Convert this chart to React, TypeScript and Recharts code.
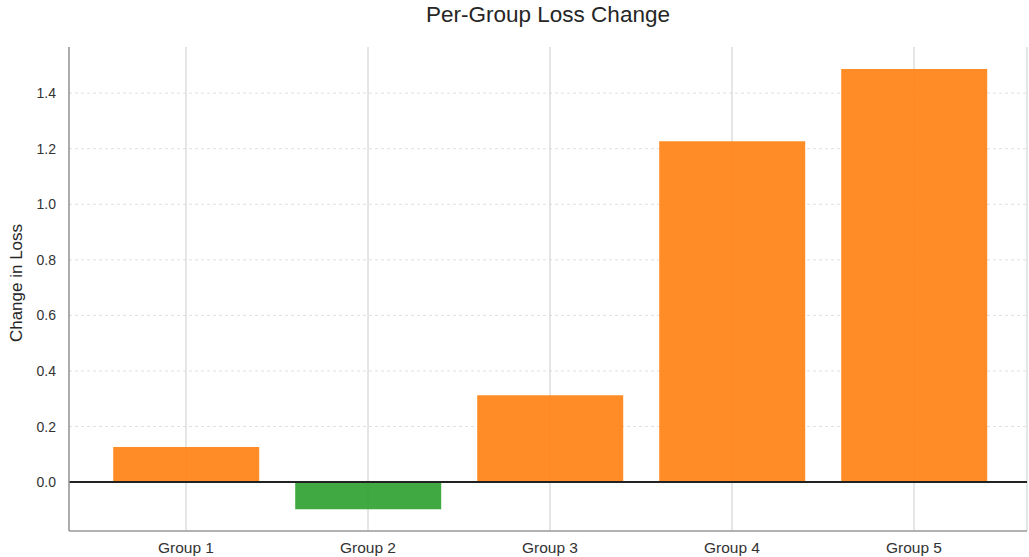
import { BarChart, Bar, XAxis, YAxis, CartesianGrid, ReferenceLine, Cell } from 'recharts';

const groups = ['Group 1', 'Group 2', 'Group 3', 'Group 4', 'Group 5'];
const lossChange = [0.126, -0.098, 0.313, 1.227, 1.487];
const yTicks = [0, 0.2, 0.4, 0.6, 0.8, 1.0, 1.2, 1.4];

const data = groups.map((g, i) => ({ name: g, value: lossChange[i] }));

const FONT = '"Liberation Sans", Arial, sans-serif';

export default function App() {
  return (
    <div style={{ position: 'absolute', left: 0, top: 0, width: 1029, height: 557, background: '#fff', fontFamily: FONT }}>
      <div
        style={{
          position: 'absolute',
          left: 69,
          width: 958,
          top: 2,
          textAlign: 'center',
          fontSize: 22.5,
          color: '#262626',
        }}
      >
        Per-Group Loss Change
      </div>
      <BarChart
        width={1029}
        height={557}
        data={data}
        margin={{ top: 47, right: 2, bottom: 0, left: 0 }}
        barCategoryGap="10%"
      >
        <CartesianGrid
          horizontal={true}
          vertical={false}
          stroke="#e0e0e0"
          strokeDasharray="3 3"
          horizontalValues={yTicks}
        />
        <CartesianGrid horizontal={false} vertical={true} stroke="#cccccc" />
        <XAxis
          dataKey="name"
          height={26}
          padding={{ left: 26, right: 22 }}
          tickLine={false}
          axisLine={{ stroke: '#999999', strokeWidth: 1.5 }}
          tick={{ fill: '#333333', fontSize: 15.5, fontFamily: FONT }}
          tickMargin={5}
        />
        <YAxis
          width={69}
          domain={[-0.176, 1.566]}
          ticks={yTicks}
          tickFormatter={(v: number) => v.toFixed(1)}
          tickLine={false}
          axisLine={{ stroke: '#999999', strokeWidth: 1.5 }}
          tick={{ fill: '#333333', fontSize: 14, fontFamily: FONT }}
          tickMargin={7}
          allowDataOverflow
          label={{
            value: 'Change in Loss',
            angle: -90,
            position: 'center',
            dx: -19,
            dy: -6,
            style: { fill: '#262626', fontSize: 17, fontFamily: FONT, textAnchor: 'middle' },
          }}
        />
        <ReferenceLine y={0} stroke="#222222" strokeWidth={2} />
        <Bar dataKey="value" isAnimationActive={false} fillOpacity={0.9}>
          {data.map((d, i) => (
            <Cell key={`cell-${i}`} fill={d.value >= 0 ? '#ff7f0e' : '#2ca02c'} />
          ))}
        </Bar>
      </BarChart>
    </div>
  );
}
